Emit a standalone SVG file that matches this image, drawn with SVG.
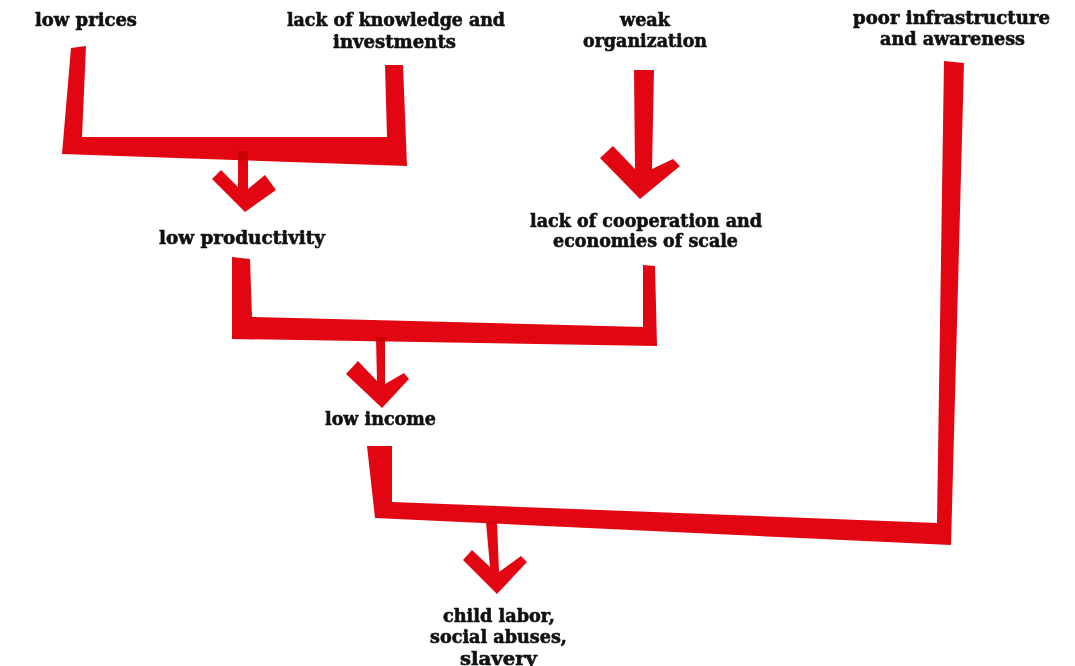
<svg xmlns="http://www.w3.org/2000/svg" width="1075" height="666" viewBox="0 0 1075 666">
  <style>
    .lbl { font-family: "DejaVu Serif", "Liberation Serif", serif; font-weight: bold; font-size: 18px; fill: #111111; stroke: #111111; stroke-width: 0.6px; stroke-linejoin: round; text-anchor: middle; }
    .bar { fill: #e20613; }
    .arrow { fill: #e20613; mix-blend-mode: multiply; }
  </style>
  <rect width="1075" height="666" fill="#ffffff"/>

  <!-- connectors: hand-drawn brackets and chevron arrows -->
  <g id="connectors">
    <polygon class="bar" points="71,48 86,46 82,137 387,137 385,65 403,65 407,166 62,154"/>
    <polygon class="bar" points="232,257 250,259 252,317 643,327 643,265 655,266 657,346 232,339"/>
    <polygon class="bar" points="367,446 392,446 392,502 937,523 944,61 964,63 951,545 375,518"/>
    <polygon class="arrow" points="238,151 248,151 248,189 265,175 276,190 245,212 212,179 221,170 238,187"/>
    <polygon class="arrow" points="634,70 654,70 652,169 673,159 680,166 640,199 600,158 613,146 635,169"/>
    <polygon class="arrow" points="376,337 385,337 385,384 404,373 409,379 382,408 346,374 358,361 377,381"/>
    <polygon class="arrow" points="486,522 497,522 499,572 521,556 527,562 497,594 463,560 472,550 490,567"/>
  </g>

  <g id="low-prices">
    <text class="lbl" x="86" y="26" textLength="102" lengthAdjust="spacingAndGlyphs">low prices</text>
  </g>
  <g id="lack-knowledge">
    <text class="lbl" x="396" y="26" textLength="218" lengthAdjust="spacingAndGlyphs">lack of knowledge and</text>
    <text class="lbl" x="394.5" y="48" textLength="123" lengthAdjust="spacingAndGlyphs">investments</text>
  </g>
  <g id="weak-organization">
    <text class="lbl" x="645" y="26" textLength="50" lengthAdjust="spacingAndGlyphs">weak</text>
    <text class="lbl" x="645" y="47" textLength="124" lengthAdjust="spacingAndGlyphs">organization</text>
  </g>
  <g id="poor-infrastructure">
    <text class="lbl" x="951.5" y="24" textLength="197" lengthAdjust="spacingAndGlyphs">poor infrastructure</text>
    <text class="lbl" x="952.5" y="45" textLength="145" lengthAdjust="spacingAndGlyphs">and awareness</text>
  </g>
  <g id="low-productivity">
    <text class="lbl" x="242" y="244" textLength="166" lengthAdjust="spacingAndGlyphs">low productivity</text>
  </g>
  <g id="lack-cooperation">
    <text class="lbl" x="646" y="227" textLength="232" lengthAdjust="spacingAndGlyphs">lack of cooperation and</text>
    <text class="lbl" x="645.5" y="247" textLength="185" lengthAdjust="spacingAndGlyphs">economies of scale</text>
  </g>
  <g id="low-income">
    <text class="lbl" x="380.5" y="425" textLength="111" lengthAdjust="spacingAndGlyphs">low income</text>
  </g>
  <g id="child-labor">
    <text class="lbl" x="499" y="622" textLength="112" lengthAdjust="spacingAndGlyphs">child labor,</text>
    <text class="lbl" x="498.5" y="643" textLength="137" lengthAdjust="spacingAndGlyphs">social abuses,</text>
    <text class="lbl" x="498.5" y="665" textLength="77" lengthAdjust="spacingAndGlyphs">slavery</text>
  </g>
</svg>
